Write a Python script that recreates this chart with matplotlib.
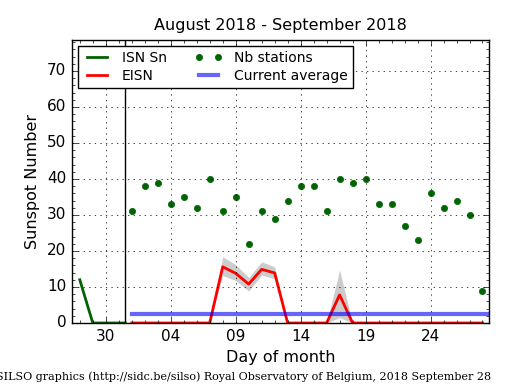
import numpy as np
import matplotlib
matplotlib.use('Agg')
import matplotlib.pyplot as plt
import matplotlib.ticker as ticker

plt.style.use('classic')

# days: Sep 1 = 1, Aug 31 = 0, Aug 30 = -1 ...
isn_days = [-3, -2, -1, 0, 0.5]
isn_sn = [12, 0, 0, 0, 0]

sep_days = list(range(1, 29))
eisn = [0, 0, 0, 0, 0, 0, 0, 15.6, 13.8, 10.8, 14.9, 13.9, 0, 0, 0, 0, 7.8, 0,
        0, 0, 0, 0, 0, 0, 0, 0, 0, 0]
eisn_hi = [0, 0, 0, 0, 0, 0, 0, 18.4, 16.2, 12.6, 17.0, 15.6, 0, 0, 0, 0, 14.7, 0,
           0, 0, 0, 0, 0, 0, 0, 0, 0, 0]
eisn_lo = [0, 0, 0, 0, 0, 0, 0, 13.2, 11.8, 8.9, 13.3, 12.3, 0, 0, 0, 0, 1.5, 0,
           0, 0, 0, 0, 0, 0, 0, 0, 0, 0]
nb_stations = [31, 38, 39, 33, 35, 32, 40, 31, 35, 22, 31, 29, 34, 38, 38, 31, 40, 39,
               40, 33, 33, 27, 23, 36, 32, 34, 30, 9]
avg_days = [1, 29]
current_avg = 2.4

tick_days = [-1, 4, 9, 14, 19, 24]
tick_labels = ['30', '04', '09', '14', '19', '24']
month_start = 0.5

fig = plt.figure(figsize=(5.15, 3.9), dpi=100, facecolor='white')
ax = fig.add_axes([0.1398, 0.1718, 0.8097, 0.7256])

ax.fill_between(sep_days, eisn_lo, eisn_hi, color='#aaaaaa', alpha=0.6, linewidth=0)
ax.plot(isn_days, isn_sn, color='darkgreen', linewidth=2, label='ISN Sn')
ax.plot(sep_days, eisn, color='red', linewidth=2, label='EISN')
ax.plot(sep_days, nb_stations, 'o', color='darkgreen', markersize=4.5,
        markeredgecolor='darkgreen', label='Nb stations')
ax.plot(avg_days, [current_avg, current_avg], color='blue', alpha=0.6, linewidth=3,
        label='Current average')
ax.axvline(month_start, color='black', linewidth=1)

ax.set_xlim(-3.6, 28.5)
ax.set_ylim(0, 78.6)
ax.xaxis.set_major_locator(ticker.FixedLocator(tick_days))
ax.xaxis.set_major_formatter(ticker.FixedFormatter(tick_labels))
ax.xaxis.set_minor_locator(ticker.MultipleLocator(1))
ax.yaxis.set_major_locator(ticker.MultipleLocator(10))
ax.yaxis.set_minor_locator(ticker.MultipleLocator(2))
ax.tick_params(labelsize=11)
ax.grid(True, which='major', linestyle=':', color='black')

ax.set_title('August 2018 - September 2018', fontsize=11.5, y=1.012)
ax.set_xlabel('Day of month', fontsize=11.5)
ax.set_ylabel('Sunspot Number', fontsize=11.5)

ax.legend(loc='upper left', ncol=2, fontsize=10, numpoints=2,
          labelspacing=0.25, borderaxespad=0.4)

fig.text(-0.008, 0.025, 'SILSO graphics (http://sidc.be/silso) Royal Observatory of Belgium, 2018 September 28',
         family='DejaVu Serif', fontsize=8, ha='left')

fig.savefig('out.png', dpi=100, facecolor='white')
